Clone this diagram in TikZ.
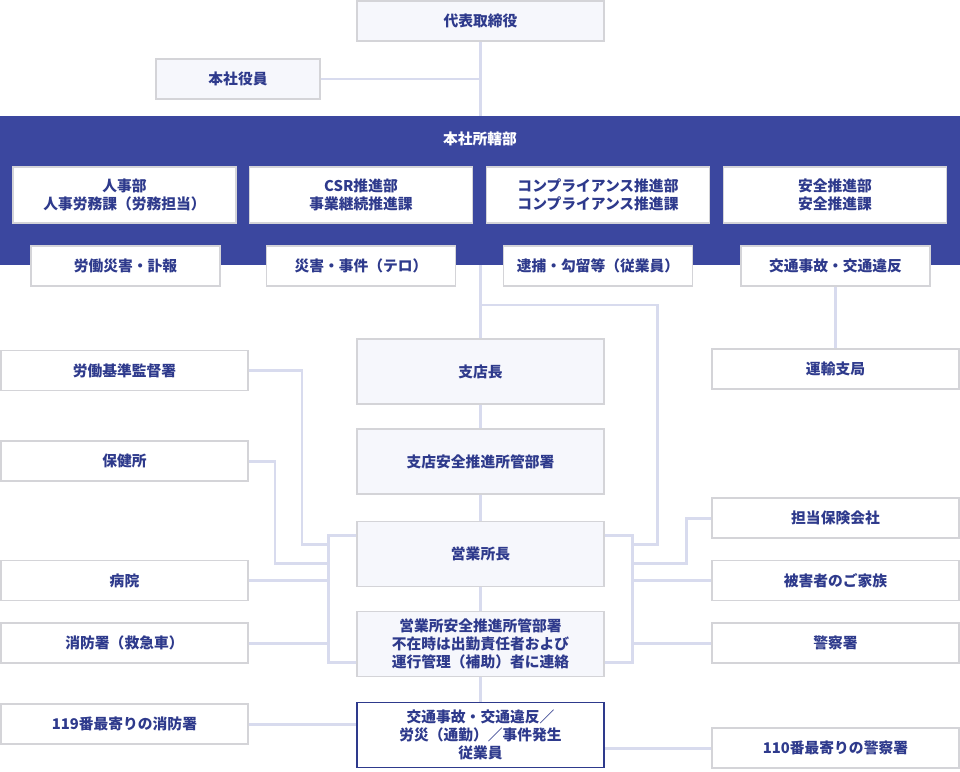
\documentclass[tikz,border=0pt]{standalone}
\usepackage{fontspec}
\setmainfont{Noto Sans CJK JP}
\usetikzlibrary{positioning, backgrounds}
\definecolor{bandblue}{HTML}{3B479F}
\definecolor{navytext}{HTML}{2E3A8C}
\definecolor{boxline}{HTML}{D4D4D8}
\definecolor{boxfill}{HTML}{F6F7FC}
\definecolor{linkline}{HTML}{D8DBEE}

\begin{document}
\begin{tikzpicture}[x=0.02cm, y=-0.02cm,
	font=\fontsize{8.4}{10.3}\selectfont\bfseries, text=navytext,
	basebox/.style={draw=boxline, line width=0.8pt, rectangle, align=center, inner sep=0pt},
	mainbox/.style={basebox, fill=boxfill, minimum width=4.94cm, minimum height=1.3cm},
	sidebox/.style={basebox, fill=white, minimum width=4.94cm, minimum height=0.8cm},
	deptbox/.style={basebox, fill=white, minimum width=4.46cm, minimum height=1.12cm},
	casebox/.style={basebox, fill=white, minimum width=3.78cm, minimum height=0.8cm},
	link/.style={draw=linkline, line width=1.7pt}
	]
	\useasboundingbox (0,0) rectangle (960,771);
	
	% Head office
	\node[mainbox, minimum height=0.8cm] (ceo) at (480.5,21) {代表取締役};
	\node[mainbox, minimum width=3.28cm, minimum height=0.8cm] (officer) at (238,79) {本社役員};
	
	% Head office departments band
	\node[fill=bandblue, minimum width=19.2cm, minimum height=2.98cm, inner sep=0pt] (band) at (480,190.5) {};
	\node[text=white] (bandtitle) at (480,139) {本社所轄部};
	
	\node[deptbox] (hr) at (124.5,195) {人事部\\人事労務課（労務担当）};
	\node[deptbox] (csr) at (361,195) {CSR推進部\\事業継続推進課};
	\node[deptbox] (comp) at (598,195) {コンプライアンス推進部\\コンプライアンス推進課};
	\node[deptbox] (safety) at (835,195) {安全推進部\\安全推進課};
	
	\node[casebox] (injury) at (125.5,266) {労働災害・訃報};
	\node[casebox] (terror) at (361,266) {災害・事件（テロ）};
	\node[casebox] (arrest) at (598,266) {逮捕・勾留等（従業員）};
	\node[casebox] (traffic) at (835.5,266) {交通事故・交通違反};
	
	% Branch and office chain
	\node[mainbox] (branch) at (480.5,371.5) {支店長};
	\node[mainbox, below=0.47cm of branch] (branchsafe) {支店安全推進所管部署};
	\node[mainbox, below=0.52cm of branchsafe] (office) {営業所長};
	\node[mainbox, below=0.48cm of office] (officesafe) {営業所安全推進所管部署\\不在時は出勤責任者および\\運行管理（補助）者に連絡};
	\node[mainbox, fill=white, draw=navytext, below=0.49cm of officesafe] (staff) {交通事故・交通違反／\\労災（通勤）／事件発生\\従業員};
	
	% Outside bodies, left
	\node[sidebox] (labor) at (124.5,370.5) {労働基準監督署};
	\node[sidebox] (health) at (124.5,461) {保健所};
	\node[sidebox] (hospital) at (124.5,580.5) {病院};
	\node[sidebox] (fire) at (124.5,643) {消防署（救急車）};
	\node[sidebox] (fire119) at (124.5,724) {119番最寄りの消防署};
	
	% Outside bodies, right
	\node[sidebox] (transport) at (835.5,369) {運輸支局};
	\node[sidebox] (insurer) at (835.5,518) {担当保険会社};
	\node[sidebox] (family) at (835.5,580.5) {被害者のご家族};
	\node[sidebox] (police) at (835.5,643) {警察署};
	\node[sidebox] (police110) at (835.5,748) {110番最寄りの警察署};
	
	\coordinate (lbar) at ([xshift=-0.56cm]office.west);
	\coordinate (rbar) at ([xshift=0.56cm]office.east);
	\coordinate (split) at (480.5,305);
	
	% Links
	\begin{scope}[on background layer]
		\draw[link] (ceo.south) -- (ceo.south |- band.north);
		\draw[link] (officer.east) -- (officer.east -| ceo.south);
		\draw[link] (branch.north |- band.south) -- (branch.north);
		\draw[link] (split) -- (657,305) |- (rbar |- 0,544);
		\draw[link] (traffic.south) -- (transport.north);
		
		\draw[link] (branch) -- (branchsafe);
		\draw[link] (branchsafe) -- (office);
		\draw[link] (office) -- (officesafe);
		\draw[link] (officesafe) -- (staff);
		
		\draw[link] ([yshift=0.37cm]office.west) -| (lbar) |- ([yshift=-0.37cm]officesafe.west);
		\draw[link] ([yshift=0.37cm]office.east) -| (rbar) |- ([yshift=-0.37cm]officesafe.east);
		
		\draw[link] (labor.east) -| (302,544) -- (lbar |- 0,544);
		\draw[link] (health.east) -| (275,563) -- (lbar |- 0,563);
		\draw[link] (hospital.east) -- (hospital.east -| lbar);
		\draw[link] (fire.east) -- (fire.east -| lbar);
		\draw[link] (fire119.east) -- (fire119.east -| staff.west);
		
		\draw[link] (insurer.west) -| (686,563) -- (rbar |- 0,563);
		\draw[link] (family.west) -- (family.west -| rbar);
		\draw[link] (police.west) -- (police.west -| rbar);
		\draw[link] (police110.west) -- (police110.west -| staff.east);
	\end{scope}
	
\end{tikzpicture}
\end{document}
